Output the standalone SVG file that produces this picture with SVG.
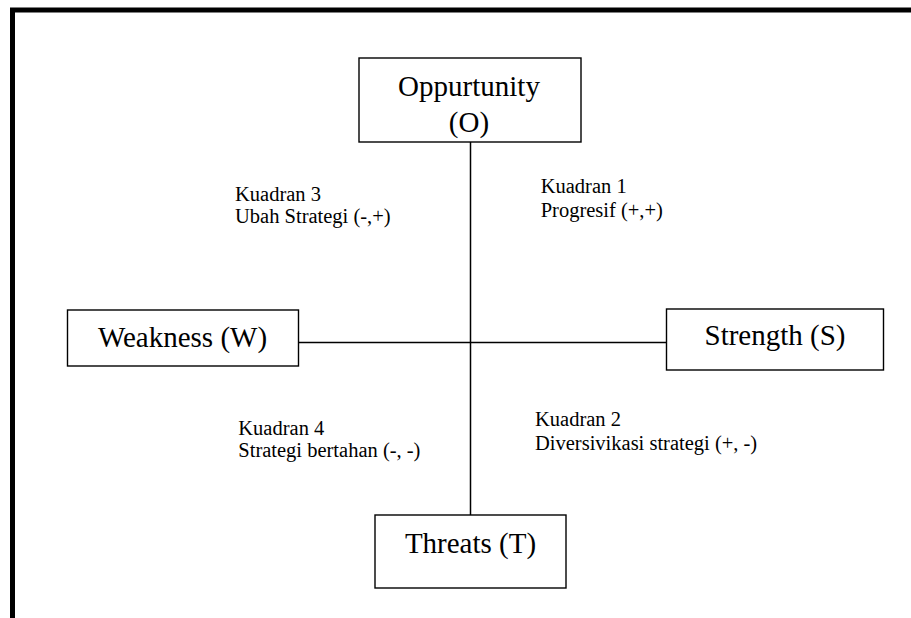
<svg xmlns="http://www.w3.org/2000/svg" width="911" height="618" viewBox="0 0 911 618">
<style>
.box{fill:#fff;stroke:#000;stroke-width:1.4}
.big{font-family:"Liberation Serif","Times New Roman",serif;font-size:29px;fill:#000}
.small{font-family:"Liberation Serif","Times New Roman",serif;font-size:20.5px;fill:#000}
.ln{stroke:#000;stroke-width:1.5;fill:none}
</style>
<rect width="911" height="618" fill="#fff"/>
<path d="M12.5 618 V10 H911" fill="none" stroke="#000" stroke-width="5" stroke-linejoin="miter"/>
<g id="connectors">
<line class="ln" x1="470.5" y1="142" x2="470.5" y2="515"/>
<line class="ln" x1="298" y1="342.5" x2="667" y2="342.5"/>
</g>
<g id="node-o">
<rect class="box" x="359" y="58" width="222" height="84"/>
<text class="big" x="469" y="96" text-anchor="middle">Oppurtunity</text>
<text class="big" x="469" y="131.5" text-anchor="middle">(O)</text>
</g>
<g id="node-w">
<rect class="box" x="67.5" y="310" width="231" height="56"/>
<text class="big" x="182.5" y="346.5" text-anchor="middle">Weakness (W)</text>
</g>
<g id="node-s">
<rect class="box" x="666.5" y="309" width="217" height="61"/>
<text class="big" x="775" y="345" text-anchor="middle">Strength (S)</text>
</g>
<g id="node-t">
<rect class="box" x="375" y="515" width="191" height="73"/>
<text class="big" x="470.5" y="553" text-anchor="middle">Threats (T)</text>
</g>
<g id="label-q3">
<text class="small" x="235" y="200.7">Kuadran 3</text>
<text class="small" x="235" y="223.3">Ubah Strategi (-,+)</text>
</g>
<g id="label-q1">
<text class="small" x="540.7" y="192.5">Kuadran 1</text>
<text class="small" x="540.7" y="216.7">Progresif (+,+)</text>
</g>
<g id="label-q4">
<text class="small" x="238.3" y="435">Kuadran 4</text>
<text class="small" x="238.3" y="457.3">Strategi bertahan (-, -)</text>
</g>
<g id="label-q2">
<text class="small" x="535" y="426">Kuadran 2</text>
<text class="small" x="535" y="450">Diversivikasi strategi (+, -)</text>
</g>
</svg>
